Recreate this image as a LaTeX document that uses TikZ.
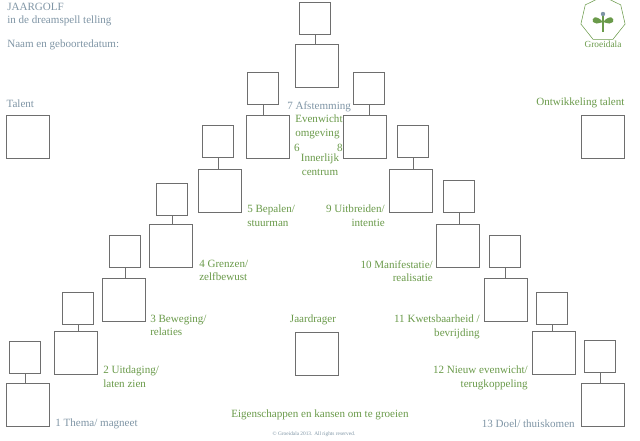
\documentclass[tikz,border=0pt]{standalone}
\usepackage{fontspec}
\setmainfont{Liberation Serif}
\usetikzlibrary{positioning,shapes.geometric}
\definecolor{gdGreen}{HTML}{6A9A4A}
\definecolor{gdGrey}{HTML}{7F95A5}
\definecolor{gdLine}{HTML}{6E6E6E}

\begin{document}
\begin{tikzpicture}[x=0.75pt,y=-0.75pt,font=\fontsize{8.3}{10}\selectfont]
  \tikzstyle{smallbox}=[draw=gdLine,semithick,minimum width=23pt,minimum height=24pt,inner sep=0pt]
  \tikzstyle{bigbox}=[draw=gdLine,semithick,minimum width=32pt,minimum height=32pt,inner sep=0pt]
  \tikzstyle{lab}=[text=gdGreen,align=left,inner sep=0pt]
  \tikzstyle{labr}=[text=gdGreen,align=right,inner sep=0pt]
  \useasboundingbox (0,0) rectangle (640,440);
  % the thirteen pairs of boxes
  \foreach \n/\sx/\sy/\bx/\by in {1/25/357/28/405,2/78/308/76/353,3/125/251/124/300,
      4/172/199/171/246,5/218/141/220/191,6/263/88/268/137,7/315/18/317/66,
      8/369/88/365/137,9/413/141/411/191,10/459/196/458/246,11/505/251/506/300,
      12/552/308/554/353,13/600/356/603/405}{
    \node[smallbox] (s\n) at (\sx,\sy) {};
    \node[bigbox] (b\n) at (\bx,\by) {};
    \draw[gdLine,semithick] (s\n.south) -- (s\n.south |- b\n.north);
  }
  % side boxes
  \node[bigbox] (talent) at (28,137) {};
  \node[bigbox] (ontw) at (603,137) {};
  \node[bigbox] (drager) at (317,354) {};
  % header and logo
  \node[text=gdGrey,align=left,anchor=north west,inner sep=0pt] (title) at (7,3) {JAARGOLF\\in de dreamspell telling};
  \node[text=gdGrey,anchor=north west,inner sep=0pt] (naam) at (7,40) {Naam en geboortedatum:};
  \node[regular polygon,regular polygon sides=7,draw=gdGreen,minimum size=34pt] (logo) at (603,19) {};
  \draw[gdGreen,thick] (603,32) -- (603,14);
  \fill[gdGreen] (603,22) .. controls (596,14) and (591,18) .. (593,22) .. controls (596,24) .. (603,22);
  \fill[gdGreen] (603,22) .. controls (610,14) and (615,18) .. (613,22) .. controls (610,24) .. (603,22);
  \fill[gdGrey] (603,14) circle (2.2);
  \node[text=gdGreen,font=\fontsize{7}{8}\selectfont] (logotxt) at (603,44) {Groeidala};
  % labels
  \node[text=gdGrey,anchor=south west,inner sep=0pt] (talentl) at (talent.north west |- 0,108) {Talent};
  \node[text=gdGreen,anchor=south east,inner sep=0pt] (ontwl) at (ontw.north east |- 0,108) {Ontwikkeling talent};
  \node[text=gdGreen,anchor=south,inner sep=0pt] (dragerl) at (313,325) {Jaardrager};
  \node[text=gdGrey,anchor=west,inner sep=0pt] (l1) at (55,424) {1 Thema/ magneet};
  \node[lab,anchor=north west] (l2) at (103,366) {2 Uitdaging/\\laten zien};
  \node[lab,anchor=north west] (l3) at (150,315) {3 Beweging/\\relaties};
  \node[lab,anchor=north west] (l4) at (199,260) {4 Grenzen/\\zelfbewust};
  \node[lab,anchor=north west] (l5) at (247,205) {5 Bepalen/\\stuurman};
  \node[labr,anchor=north east] (l9) at (385,205) {9 Uitbreiden/\\intentie};
  \node[labr,anchor=north east] (l10) at (433,260) {10 Manifestatie/\\realisatie};
  \node[labr,anchor=north east] (l11) at (480,315) {11 Kwetsbaarheid /\\bevrijding};
  \node[labr,anchor=north east] (l12) at (528,366) {12 Nieuw evenwicht/\\terugkoppeling};
  \node[text=gdGrey,anchor=east,inner sep=0pt] (l13) at (575,424) {13 Doel/ thuiskomen};
  % centre texts
  \node[text=gdGrey,anchor=west,inner sep=0pt] (l7) at (287,107) {7 Afstemming};
  \node[lab,anchor=north west] (even) at (295,115) {Evenwicht\\omgeving};
  \node[text=gdGreen,inner sep=0pt] (l6) at (297,148) {6};
  \node[text=gdGreen,inner sep=0pt] (l8) at (340,148) {8};
  \node[text=gdGreen,align=center,anchor=north,inner sep=0pt] (innerl) at (320,154) {Innerlijk\\centrum};
  \node[text=gdGreen,inner sep=0pt] (eigen) at (320,415) {Eigenschappen en kansen om te groeien};
  \node[text=gdGrey,font=\fontsize{4}{5}\selectfont,inner sep=0pt] (copy) at (314,434) {\textcopyright{} Groeidala 2013. All rights reserved.};
\end{tikzpicture}
\end{document}
